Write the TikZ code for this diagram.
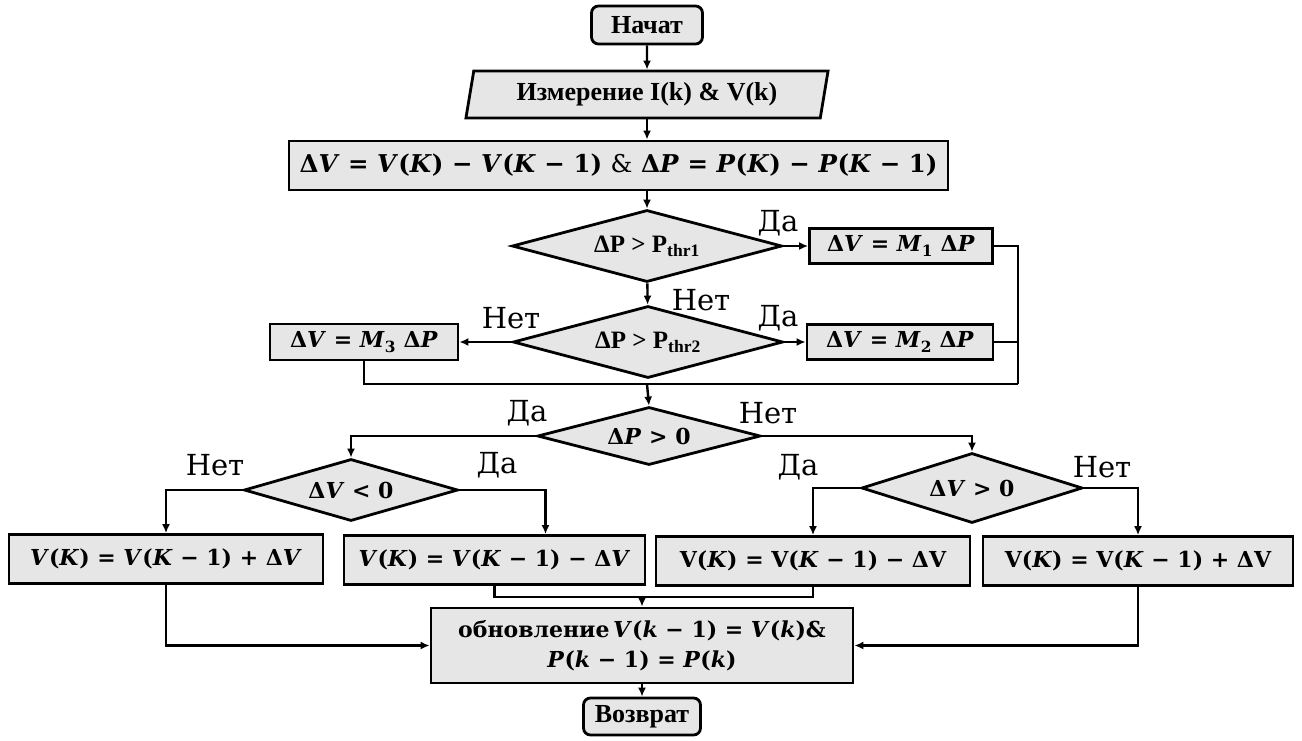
\documentclass[tikz,border=0pt]{standalone}
\usepackage{fontspec}
\setmainfont{Liberation Serif}
\newfontfamily\mfont{DejaVu Serif}
\usetikzlibrary{shapes.geometric,arrows.meta}
\definecolor{boxgray}{RGB}{230,230,230}
\newcommand{\vi}[1]{\textit{#1}}

\begin{document}
\begin{tikzpicture}[x=1pt,y=-1pt,
  blk/.style={draw,line width=2.8pt,fill=boxgray,inner sep=0pt},
  term/.style={blk,rounded corners=7pt},
  dec/.style={blk,diamond,aspect=3.5},
  io/.style={blk,trapezium,trapezium left angle=76,trapezium right angle=104,trapezium stretches=true},
  tx/.style={font=\bfseries\fontsize{26}{30}\selectfont},
  dtx/.style={font=\bfseries\fontsize{25}{28}\selectfont},
  mth/.style={font=\mfont\bfseries\fontsize{22}{30}\selectfont},
  lbl/.style={font=\mfont\fontsize{29}{32}\selectfont},
  ln/.style={line width=2.4pt},
  arr/.style={ln,-{Latex[length=9pt,width=8pt]}}]
\useasboundingbox (0,0) rectangle (1302,740);

% top part
\node[term,tx,minimum width=111,minimum height=38] (start) at (647,25) {Начат};
\node[io,tx,minimum width=363,minimum height=47] (meas) at (647,94.5) {Измерение I(k) \& V(k)};
\node[blk,mth,font=\mfont\bfseries\fontsize{24.5}{30}\selectfont,minimum width=659,minimum height=49] (calc) at (618.5,165.5)
  {Δ\vi{V} = \vi{V}(\vi{K}) − \vi{V}(\vi{K} − 1) {\mdseries\&} Δ\vi{P} = \vi{P}(\vi{K}) − \vi{P}(\vi{K} − 1)};

% thresholds
\node[dec,dtx,minimum width=270,minimum height=72] (d1) at (647,246) {ΔP > P\textsubscript{thr1}};
\node[dec,dtx,minimum width=270,minimum height=72] (d2) at (648,342) {ΔP > P\textsubscript{thr2}};
\node[blk,mth,minimum width=183,minimum height=35] (m1) at (901,246) {Δ\vi{V} = \vi{M}\textsubscript{1} Δ\vi{P}};
\node[blk,mth,minimum width=186,minimum height=35] (m2) at (900,342) {Δ\vi{V} = \vi{M}\textsubscript{2} Δ\vi{P}};
\node[blk,mth,minimum width=188,minimum height=36] (m3) at (364,342) {Δ\vi{V} = \vi{M}\textsubscript{3} Δ\vi{P}};

% direction
\node[dec,mth,minimum width=223,minimum height=58] (d3) at (649,436) {Δ\vi{P} > 0};
\node[dec,mth,minimum width=214,minimum height=62] (d4) at (351,490) {Δ\vi{V} < 0};
\node[dec,mth,minimum width=221,minimum height=70] (d5) at (972,488) {Δ\vi{V} > 0};

\node[blk,mth,minimum width=314,minimum height=49] (b1) at (166,559) {\vi{V}(\vi{K}) = \vi{V}(\vi{K} − 1) + Δ\vi{V}};
\node[blk,mth,minimum width=301,minimum height=49] (b2) at (494.5,560) {\vi{V}(\vi{K}) = \vi{V}(\vi{K} − 1) − Δ\vi{V}};
\node[blk,mth,minimum width=314,minimum height=49] (b3) at (813,561) {V(\vi{K}) = V(\vi{K} − 1) − ΔV};
\node[blk,mth,minimum width=310,minimum height=49] (b4) at (1138,561) {V(\vi{K}) = V(\vi{K} − 1) + ΔV};

\node[blk,mth,minimum width=422,minimum height=75,align=center] (upd) at (642,645.5)
  {обновление\,\vi{V}(\vi{k} − 1) = \vi{V}(\vi{k})\&\\ \vi{P}(\vi{k} − 1) = \vi{P}(\vi{k})};
\node[term,tx,minimum width=117,minimum height=37] (ret) at (642,716.5) {Возврат};

% labels
\node[lbl] (y1) at (778,223) {Да};
\node[lbl] (n1) at (701,300) {Нет};
\node[lbl] (y2) at (778,318) {Да};
\node[lbl] (n2) at (511,318) {Нет};
\node[lbl] (y3) at (527,413) {Да};
\node[lbl] (n3) at (768,413) {Нет};
\node[lbl] (n4) at (215,465) {Нет};
\node[lbl] (y4) at (497,465) {Да};
\node[lbl] (y5) at (798,467) {Да};
\node[lbl] (n5) at (1102,467) {Нет};

% connectors
\coordinate (rbus) at (1018,384);
\coordinate (mrg) at (647,384);
\coordinate (jn) at (642,597);
\draw[arr] (start) -- (meas);
\draw[arr] (meas.south) -- (meas.south |- calc.north);
\draw[arr] (calc.south -| d1) -- (d1.north);
\draw[arr] (d1.east) -- (m1.west);
\draw[arr] (d1) -- (d2);
\draw[arr] (d2.east) -- (m2.west);
\draw[arr] (d2.west) -- (m3.east);
\draw[ln] (m1.east) -| (rbus);
\draw[ln] (m2.east) -- (m2.east -| rbus);
\draw[ln] (m3.south) |- (rbus);
\draw[arr] (mrg) -- (d3.north);
\draw[arr] (d3.west) -| (d4.north);
\draw[arr] (d3.east) -| (d5.north);
\draw[arr] (d4.west) -| (b1.north);
\draw[arr] (d4.east) -| ([xshift=51pt]b2.north);
\draw[arr] (d5.west) -| (b3.north);
\draw[arr] (d5.east) -| (b4.north);
\draw[ln] (b2.south) |- (jn) -| (b3.south);
\draw[arr] (jn) -- (upd.north);
\draw[arr] (b1.south) |- (upd.west);
\draw[arr] (b4.south) |- (upd.east);
\draw[arr] (upd) -- (ret);
\end{tikzpicture}
\end{document}
